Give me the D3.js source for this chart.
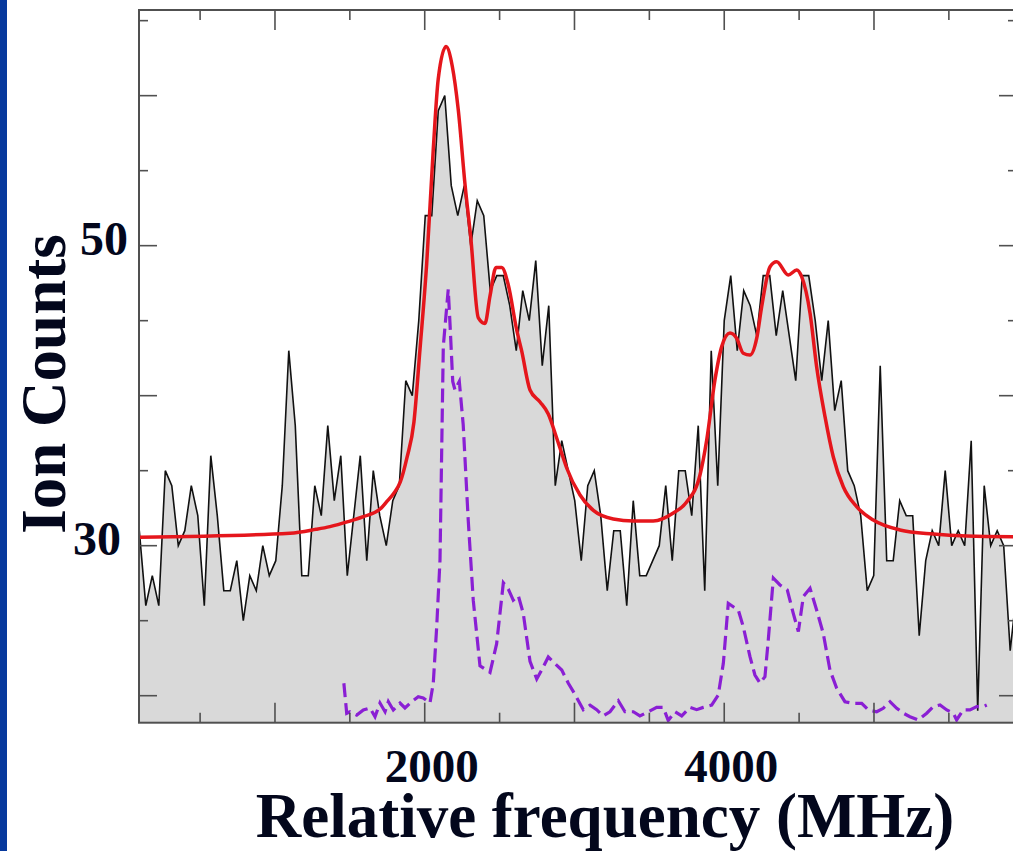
<!DOCTYPE html>
<html>
<head>
<meta charset="utf-8">
<script src="https://cdn.jsdelivr.net/npm/d3@7"></script>
<style>
  html, body { margin: 0; padding: 0; background: #fff; overflow: hidden; }
  text { font-family: "Liberation Serif", "Times New Roman", serif; font-weight: bold; fill: #03071c; }
</style>
</head>
<body>
<div id="d3"></div>
<script>
// measured spectrum: ion counts sampled on a uniform frequency grid (MHz)
const freqStart = 94, freqStep = 43.4;
const counts = [
  31, 26, 28, 26, 35, 34, 30, 31, 34, 32, 26, 36, 32, 27, 27, 29, 25, 28, 27, 30,
  28, 29, 34, 43, 38, 28, 28, 34, 32, 38, 33, 36, 28, 32, 36, 29, 35, 32, 30, 33,
  34, 41, 40, 45, 52, 52, 59, 60, 54, 52, 54, 50, 53, 52, 47, 48, 48, 46, 43, 47,
  45, 49, 42, 46, 34, 37, 35, 33, 29, 34, 35, 32, 27, 31, 31, 26, 33, 28, 28, 29,
  30, 34, 29, 35, 35, 32, 38, 27, 43, 34, 45, 48, 43, 47, 46, 44, 48, 48, 44, 47,
  44, 41, 48, 48, 45, 41, 45, 39, 41, 35, 34, 32, 27, 28, 42, 29, 29, 33, 32, 32,
  24, 29, 31, 30, 35, 30, 31, 30, 37, 19, 34, 30, 31, 30, 23, 27
];

// fitted curve (red)
const fitFreq = [94, 1100, 1274, 1367, 1488, 1590, 1708, 1746, 1795, 1837, 1881, 1928, 1968,
  2013, 2057, 2090, 2142, 2184, 2224, 2269, 2307, 2358, 2402, 2436, 2476, 2514, 2558,
  2614, 2647, 2703, 2770, 2825, 2881, 2925, 2948, 3037, 3126, 3259, 3393, 3526, 3660,
  3749, 3838, 3883, 3938, 3983, 4038, 4083, 4127, 4172, 4217, 4250, 4306, 4350, 4428,
  4484, 4517, 4573, 4617, 4673, 4728, 4795, 4884, 4995, 5173, 5396, 5619, 5955];
const fitCounts = [30.56, 30.83, 31.09, 31.27, 31.6, 31.93, 32.49, 32.93, 33.51, 34.25, 35.85,
  38.25, 43.05, 48.78, 56.42, 61.09, 63.27, 61.96, 59.05, 54.09, 50.58, 45.18, 44.81,
  46.65, 48.54, 48.54, 47.38, 44.38, 43.0, 40.38, 39.58, 38.78, 37.18, 35.85, 35.18,
  33.38, 32.35, 31.78, 31.65, 31.65, 32.18, 32.91, 34.71, 37.05, 41.05, 43.27, 44.18,
  43.83, 42.83, 42.71, 43.83, 45.93, 48.6, 48.93, 48.05, 48.38, 47.93, 45.49, 41.93,
  38.6, 35.93, 33.93, 32.6, 31.71, 31.05, 30.78, 30.65, 30.6];

// simulated spectrum (purple dashed)
const simFreq = [1460, 1479, 1501, 1546, 1590, 1634, 1668, 1701, 1735, 1757, 1790, 1835, 1868,
  1913, 1957, 1990, 2035, 2057, 2080, 2102, 2124, 2157, 2169, 2187, 2202, 2231, 2257,
  2291, 2324, 2369, 2436, 2480, 2525, 2558, 2591, 2625, 2658, 2703, 2748, 2781, 2825,
  2870, 2915, 2959, 3003, 3059, 3104, 3148, 3192, 3237, 3293, 3337, 3393, 3437, 3493,
  3549, 3593, 3626, 3671, 3716, 3771, 3816, 3860, 3916, 3960, 3994, 4027, 4060, 4094,
  4127, 4172, 4205, 4239, 4272, 4294, 4328, 4372, 4421, 4461, 4495, 4528, 4573, 4617,
  4661, 4706, 4751, 4806, 4862, 4918, 4962, 5018, 5062, 5107, 5152, 5196, 5240, 5296,
  5352, 5396, 5441, 5486, 5530, 5552, 5596, 5641, 5686, 5730, 5753];
const simCounts = [20.83, 18.83, 18.93, 18.71, 19.05, 19.18, 18.6, 19.51, 18.93, 19.6, 19.05,
  19.51, 19.18, 19.6, 19.93, 19.85, 19.51, 20.83, 24.6, 29.05, 43.29, 47.09, 44.75, 40.95,
  40.38, 40.95, 38.05, 31.62, 26.37, 21.99, 21.55, 23.45, 27.53, 27.11, 26.37, 26.66,
  25.49, 22.29, 21.11, 21.71, 22.58, 22.14, 21.71, 20.83, 20.09, 19.07, 19.37, 19.07,
  18.65, 18.93, 19.66, 18.93, 18.93, 18.65, 18.93, 19.22, 19.22, 18.35, 18.93, 18.65,
  19.22, 19.07, 19.22, 19.37, 20.05, 22.16, 26.16, 25.93, 25.71, 24.6, 22.6, 21.38,
  20.83, 21.27, 23.71, 27.83, 27.38, 27.05, 25.49, 24.27, 26.6, 27.16, 25.71, 24.16,
  21.71, 20.49, 19.6, 19.49, 19.49, 19.05, 18.93, 19.16, 19.6, 19.16, 18.83, 18.6,
  18.38, 18.83, 19.27, 19.38, 19.05, 18.83, 18.38, 19.05, 19.05, 19.27, 19.27, 19.38];

const xMajor = [1000, 2000, 3000, 4000, 5000];
const xMinor = [500, 1500, 2500, 3500, 4500, 5500];
const yMajor = [20, 30, 40, 50, 60];
const yMinor = [25, 35, 45, 55, 65];
const xLabels = [2000, 4000];
const yLabels = [30, 50];

const W = 1013, H = 851;
const plot = { left: 139, right: 1017, top: 10, bottom: 722.7 };

const svg = d3.select("#d3").append("svg")
  .attr("width", W).attr("height", H)
  .style("display", "block");

// blue strip at the left edge
svg.append("rect").attr("x", 0).attr("y", 0).attr("width", 7).attr("height", H).attr("fill", "#07399d");

const x = d3.scaleLinear().domain([92, 5955]).range([plot.left, plot.right]);
const y = d3.scaleLinear().domain([18.2, 65.71]).range([plot.bottom, plot.top]);

svg.append("clipPath").attr("id", "clip")
  .append("rect")
  .attr("x", plot.left).attr("y", plot.top)
  .attr("width", plot.right - plot.left).attr("height", plot.bottom - plot.top);

const data = counts.map((c, i) => ({ f: freqStart + i * freqStep, c: c }));
const fit = fitFreq.map((f, i) => ({ f: f, c: fitCounts[i] }));
const sim = simFreq.map((f, i) => ({ f: f, c: simCounts[i] }));

const g = svg.append("g").attr("clip-path", "url(#clip)");

// grey area under the measured spectrum
g.append("path")
  .datum(data)
  .attr("fill", "#d9d9d9")
  .attr("d", d3.area().x(d => x(d.f)).y0(plot.bottom).y1(d => y(d.c)));

g.append("path")
  .datum(data)
  .attr("fill", "none")
  .attr("stroke", "#111")
  .attr("stroke-width", 1.6)
  .attr("d", d3.line().x(d => x(d.f)).y(d => y(d.c)));

g.append("path")
  .datum(sim)
  .attr("fill", "none")
  .attr("stroke", "#8a1fd4")
  .attr("stroke-width", 3.2)
  .attr("stroke-dasharray", "14,6")
  .attr("d", d3.line().x(d => x(d.f)).y(d => y(d.c)));

g.append("path")
  .datum(fit)
  .attr("fill", "none")
  .attr("stroke", "#e5161c")
  .attr("stroke-width", 3.5)
  .attr("d", d3.line().curve(d3.curveMonotoneX).x(d => x(d.f)).y(d => y(d.c)));

// frame
const frameColor = "#505050";
svg.append("rect")
  .attr("x", plot.left).attr("y", plot.top)
  .attr("width", plot.right - plot.left).attr("height", plot.bottom - plot.top)
  .attr("fill", "none").attr("stroke", frameColor).attr("stroke-width", 2);

// inward ticks on all four sides
function xticks(vals, len) {
  const t = svg.append("g").attr("stroke", frameColor).attr("stroke-width", 1.6);
  vals.forEach(v => {
    t.append("line").attr("x1", x(v)).attr("x2", x(v)).attr("y1", plot.bottom).attr("y2", plot.bottom - len);
    t.append("line").attr("x1", x(v)).attr("x2", x(v)).attr("y1", plot.top).attr("y2", plot.top + len);
  });
}
xticks(xMajor, 20);
xticks(xMinor, 10);

function yticks(vals, len) {
  const t = svg.append("g").attr("stroke", frameColor).attr("stroke-width", 1.6);
  vals.forEach(v => {
    t.append("line").attr("x1", plot.left).attr("x2", plot.left + len).attr("y1", y(v)).attr("y2", y(v));
    t.append("line").attr("x1", plot.right).attr("x2", plot.right - len).attr("y1", y(v)).attr("y2", y(v));
  });
}
yticks(yMajor, 18);
yticks(yMinor, 9);

// tick labels
svg.selectAll(".xl").data(xLabels).join("text")
  .attr("class", "xl")
  .attr("x", d => x(d) + 7)
  .attr("y", 782)
  .attr("text-anchor", "middle")
  .style("font-size", "47px")
  .text(d => d);

svg.selectAll(".yl").data(yLabels).join("text")
  .attr("class", "yl")
  .attr("x", d => (d === 30 ? 121 : 128))
  .attr("y", d => y(d) + 9.5)
  .attr("text-anchor", "end")
  .style("font-size", "48px")
  .text(d => d);

// axis titles
svg.append("text")
  .attr("x", 605).attr("y", 837)
  .attr("text-anchor", "middle")
  .style("font-size", "63px")
  .text("Relative frequency (MHz)");

svg.append("text")
  .attr("transform", "translate(65,384) rotate(-90)")
  .attr("text-anchor", "middle")
  .style("font-size", "63px")
  .text("Ion Counts");
</script>
</body>
</html>
